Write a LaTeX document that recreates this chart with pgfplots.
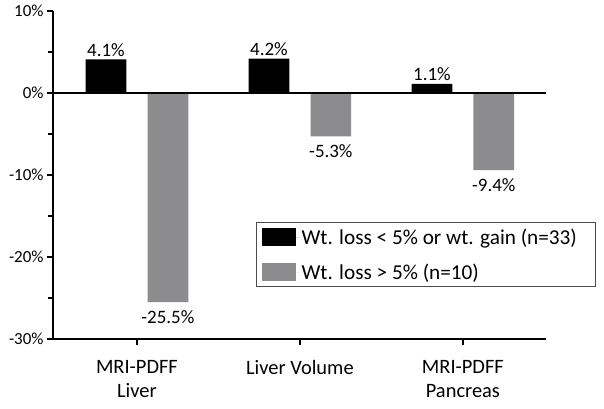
\documentclass[border=0pt]{standalone}
\usepackage{pgfplots}
\pgfplotsset{compat=1.18}
\usepackage{fontspec}
\setmainfont{Carlito}
\definecolor{bargray}{RGB}{140,140,142}
\begin{document}
\begin{tikzpicture}
\begin{axis}[
  scale only axis,
  width=493bp, height=328bp,
  xmin=-0.515, xmax=2.51,
  ymin=-30, ymax=10,
  ybar, bar width=0.25,
  axis lines*=left,
  axis line style={line width=2.5bp},
  every tick/.style={black, line width=2bp},
  tick align=outside,
  major tick length=6bp,
  minor tick length=5bp,
  xtick={0,1,2},
  xticklabels={MRI-PDFF\\Liver, Liver Volume, MRI-PDFF\\Pancreas},
  xticklabel style={align=center, font=\fontsize{20.5}{24}\selectfont, yshift=-12bp},
  ytick={-30,-20,-10,0,10},
  yticklabels={-30\%,-20\%,-10\%,0\%,10\%},
  minor ytick={-25,-15,-5,5},
  yticklabel style={font=\fontsize{17}{18}\selectfont},
  legend style={at={(0.412,0.356)}, anchor=north west, draw=black!70, line width=0.8bp,
    font=\fontsize{21.3}{24}\selectfont, inner xsep=5bp, inner ysep=4bp,
    row sep=14bp, cells={anchor=west}},
  legend cell align=left,
  clip=false,
  point meta=explicit symbolic,
  nodes near coords,
]
\addplot[bar shift=-0.19, fill=black, draw=none,
  every node near coord/.append style={font=\fontsize{19}{20}\selectfont, black, anchor=south, inner sep=3bp},
  legend image code/.code={\fill[black] (0bp,-9bp) rectangle (34bp,9bp); \path (0bp,0bp) -- (38bp,0bp);}]
  coordinates {(0,4.1) [4.1\%] (1,4.2) [4.2\%] (2,1.1) [1.1\%]};
\addlegendentry{Wt. loss < 5\% or wt. gain (n=33)\hspace*{11bp}}
\addplot[bar shift=0.19, fill=bargray, draw=none,
  every node near coord/.append style={font=\fontsize{19}{20}\selectfont, black, anchor=north, inner sep=3bp, yshift=-5bp},
  legend image code/.code={\fill[bargray] (0bp,-9bp) rectangle (34bp,9bp); \path (0bp,0bp) -- (38bp,0bp);}]
  coordinates {(0,-25.5) [-25.5\%] (1,-5.3) [-5.3\%] (2,-9.4) [-9.4\%]};
\addlegendentry{Wt. loss > 5\% (n=10)}
\end{axis}
\draw[black, line width=2.5bp] (0,{328bp*3/4}) -- (493bp,{328bp*3/4});
\path (-53bp,-70bp) rectangle (551bp,339bp);
\end{tikzpicture}
\end{document}
